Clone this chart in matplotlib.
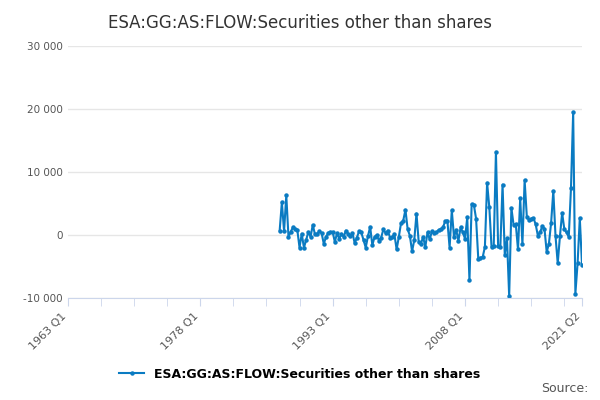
import numpy as np
import pandas as pd
import matplotlib
matplotlib.use('Agg')
import matplotlib.pyplot as plt

# quarterly values, 1987 Q1 .. 2021 Q2
values = [
    700, 5200, 600, 6300, -300, 500, 1200, 1000, 800, -2000,
    200, -2000, -800, 500, -300, 1600, 100, 200, 600, 300,
    -1400, -300, 300, 500, 700, 200, -200, 300, -1300, -400,
    600, 400, -800, -2000, -200, 1300, -1600, -300, 0, -900,
    -400, 900, 300, 700, -400, -300, 100, -2300, -300, 1900,
    2300, 4000, 900, -100, -2600, -800, 3400, -1100, -1400, -300,
    -1900, 400, -700, 600, 300, 400, 800, 900, 1200, 2200,
    2300, -2000, 3900, -300, 800, -900, 1200, 400, -600, 2800,
    -7200, 4900, 4800, 2600, -3800, -3600, -3500, -1900, 8300, 4400,
    -1900, -1700, 13200, -1800, -1900, 8000, -3100, -500, -9700, 4300,
    1600, 1700, -2300, 5800, -1500, 8700, 2900, 2400, 2600, 2700,
    1700, -100, 400, 1400, 1000, -2700, -1400, 1900, 7000, -200,
    -4500, -200, 3500, 900, 400, -300, 7400, 19500, -9300, -4500,
    2700, -4700,
]
extra_early = [500, -1100, 300, -600, 200, -300]
values = values[:24] + extra_early + values[24:]
quarters = pd.period_range('1987Q1', periods=len(values), freq='Q')
x = quarters.year + (quarters.quarter - 1) / 4.0

fig, ax = plt.subplots(figsize=(6, 4), dpi=100)
fig.subplots_adjust(left=0.113, right=0.97, top=0.885, bottom=0.255)
ax.plot(x, values, color='#0a7bc2', lw=1.5, marker='o', ms=2.2)

ax.set_xlim(1963, 2021.25)
ax.set_ylim(-10000, 30000)
ax.set_yticks([-10000, 0, 10000, 20000, 30000])
ax.set_yticklabels(['-10 000', '0', '10 000', '20 000', '30 000'])
ax.set_xticks([1963, 1978, 1993, 2008, 2021.25])
ax.set_xticklabels(['1963 Q1', '1978 Q1', '1993 Q1', '2008 Q1', '2021 Q2'], rotation=45, ha='right')
ax.set_xticks(np.arange(1963, 2021, 3.75), minor=True)
ax.tick_params(axis='y', length=0, labelsize=7.5, colors='#555555')
ax.tick_params(axis='x', which='both', length=6, color='#ccd6eb', labelsize=8, labelcolor='#555555')
ax.grid(axis='y', color='#e6e6e6', lw=1)
for s in ['top', 'right', 'left']:
    ax.spines[s].set_visible(False)
ax.spines['bottom'].set_color('#ccd6eb')

fig.suptitle('ESA:GG:AS:FLOW:Securities other than shares', x=0.5, y=0.965, fontsize=12, color='#333333')
fig.legend(['ESA:GG:AS:FLOW:Securities other than shares'], loc='lower center',
           bbox_to_anchor=(0.5, 0.02), frameon=False, prop={'weight': 'bold', 'size': 9})
fig.text(0.98, 0.02, 'Source:', ha='right', fontsize=9, color='#555555')
fig.savefig('out.png')
